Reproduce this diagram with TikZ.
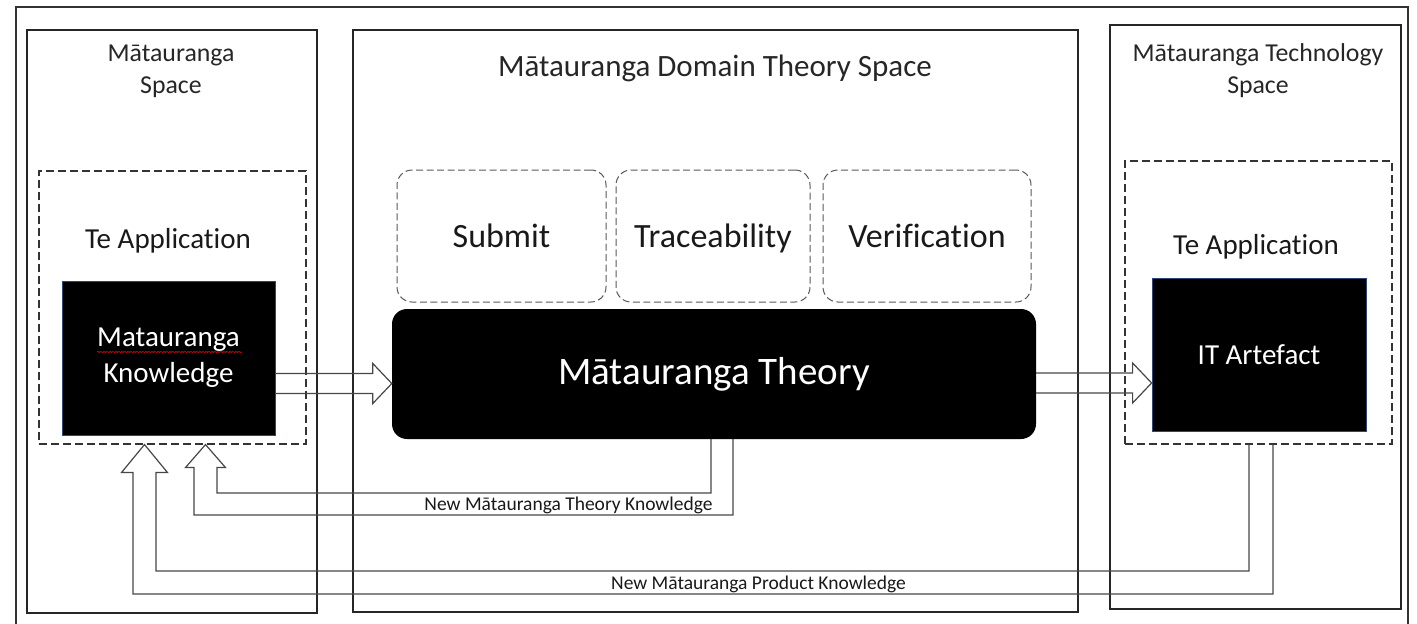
\documentclass[tikz,border=0pt]{standalone}
\usepackage{fontspec}
\setmainfont{Carlito}[Ligatures=CommonOff]
\usetikzlibrary{calc,decorations.pathmorphing}

% hollow block arrow pointing right, from #1 to #2 (same height)
\newcommand\blockarrow[2]{%
  \draw[hollow]
    ($(#1)+(0,-10)$) -- ($(#2)+(-19,-10)$) -- ($(#2)+(-19,-20)$) -- (#2)
    -- ($(#2)+(-19,20)$) -- ($(#2)+(-19,10)$) -- ($(#1)+(0,10)$);}

\begin{document}
\begin{tikzpicture}[
    x=1pt,y=-1pt,
    framebox/.style={draw=black!80,line width=1.2pt},
    spacebox/.style={draw=black!85,line width=1.2pt,inner sep=0pt},
    appbox/.style={draw=black!80,line width=1.1pt,dash pattern=on 8pt off 4pt,inner sep=0pt},
    stagebox/.style={draw=black!65,line width=1pt,dash pattern=on 7pt off 3.5pt,
      rounded corners=15pt,inner sep=0pt,minimum height=132pt,
      text height=22pt,text depth=0pt,
      text=black!90,font=\fontsize{34}{40}\selectfont},
    darkbox/.style={fill=black,draw={rgb,255:red,47;green,70;blue,120},line width=0.8pt,text=white,
      inner sep=0pt,align=center,font=\fontsize{29}{36}\selectfont},
    theorybox/.style={fill=black,rounded corners=15pt,text=white,inner sep=0pt,
      font=\fontsize{39}{46}\selectfont},
    spacetitle/.style={align=center,text=black!85,inner sep=0pt,
      font=\fontsize{25.8}{32}\selectfont},
    apptitle/.style={text=black!90,inner sep=0pt,font=\fontsize{29}{35}\selectfont},
    hollow/.style={draw=black!72,line width=1.2pt,line join=miter},
    flowlabel/.style={text=black!90,inner sep=0pt,font=\fontsize{19.5}{23}\selectfont},
    spellmark/.style={draw=red!80!black,line width=0.6pt,decorate,
      decoration={snake,amplitude=0.8pt,segment length=3pt}}]

  \useasboundingbox (0,0) rectangle (1417,624);

  \draw[framebox] (16,624) -- (16,7) -- (1408,7) -- (1408,624);

  % the three spaces
  \node[spacebox,minimum width=290pt,minimum height=583pt] (kspace) at (172,321.5) {};
  \node[spacebox,minimum width=725pt,minimum height=582pt] (dspace) at (715.5,321) {};
  \node[spacebox,minimum width=291pt,minimum height=584pt] (tspace) at (1255.5,317) {};

  \node[spacetitle] (ktitle) at (171,71) {Mātauranga\\Space};
  \node[spacetitle,font=\fontsize{31}{36}\selectfont] (dtitle) at (715,68) {Mātauranga Domain Theory Space};
  \node[spacetitle] (ttitle) at (1258,71) {Mātauranga Technology\\Space};

  % applications
  \node[appbox,minimum width=267pt,minimum height=273pt] (kapp) at (172.5,307.5) {};
  \node[appbox,minimum width=267pt,minimum height=283pt] (tapp) at (1258.5,302.5) {};
  \node[apptitle] (kapptitle) at (168,241) {Te Application};
  \node[apptitle] (tapptitle) at (1256,247) {Te Application};

  \node[darkbox,minimum width=213pt,minimum height=154pt] (know) at (168.5,358) {Matauranga\\Knowledge};
  \node[darkbox,minimum width=214pt,minimum height=153pt] (artefact) at (1259,354.5) {IT Artefact};
  \draw[spellmark] (97,352) -- (242,352);

  % theory and its parts
  \node[stagebox,minimum width=209pt] (submit) at (501.5,236) {Submit};
  \node[stagebox,minimum width=194pt] (trace) at (713,236) {Traceability};
  \node[stagebox,minimum width=208pt] (verify) at (927,236) {Verification};
  \node[theorybox,minimum width=644pt,minimum height=130pt] (theory) at (714,374) {Mātauranga Theory};

  % forward arrows
  \coordinate (k2t) at ([yshift=-25.5pt]know.east);
  \coordinate (k2tend) at (k2t -| theory.west);
  \blockarrow{k2t}{k2tend}
  \coordinate (t2a) at ([yshift=-9pt]theory.east);
  \coordinate (t2aend) at (t2a -| artefact.west);
  \blockarrow{t2a}{t2aend}

  % feedback from theory
  \coordinate (thsrc) at ([xshift=8pt]theory.south);
  \coordinate (thtip) at ([xshift=33pt]kapp.south);
  \coordinate (thband) at (0,504);
  \draw[hollow]
    ($(thsrc)+(11,0)$) -- ($(thsrc |- thband)+(11,11)$)
    -- ($(thtip |- thband)+(-11.5,11)$) -- ($(thtip)+(-11.5,23)$)
    -- ($(thtip)+(-20,23)$) -- (thtip) -- ($(thtip)+(20,23)$)
    -- ($(thtip)+(11.5,23)$) -- ($(thtip |- thband)+(11.5,-11)$)
    -- ($(thsrc |- thband)+(-11,-11)$) -- ($(thsrc)+(-11,0)$);
  \node[flowlabel] (thlabel) at (568.5,505) {New Mātauranga Theory Knowledge};

  % feedback from artefact
  \coordinate (arsrc) at ([xshift=2.5pt]tapp.south);
  \coordinate (artip) at ([xshift=-28pt]kapp.south);
  \coordinate (arband) at (0,582.5);
  \draw[hollow]
    ($(arsrc)+(12,0)$) -- ($(arsrc |- arband)+(12,11.5)$)
    -- ($(artip |- arband)+(-11.5,11.5)$) -- ($(artip)+(-11.5,28)$)
    -- ($(artip)+(-23,28)$) -- (artip) -- ($(artip)+(23,28)$)
    -- ($(artip)+(11.5,28)$) -- ($(artip |- arband)+(11.5,-11.5)$)
    -- ($(arsrc |- arband)+(-12,-11.5)$) -- ($(arsrc)+(-12,0)$);
  \node[flowlabel] (arlabel) at (758.5,584) {New Mātauranga Product Knowledge};
\end{tikzpicture}
\end{document}
